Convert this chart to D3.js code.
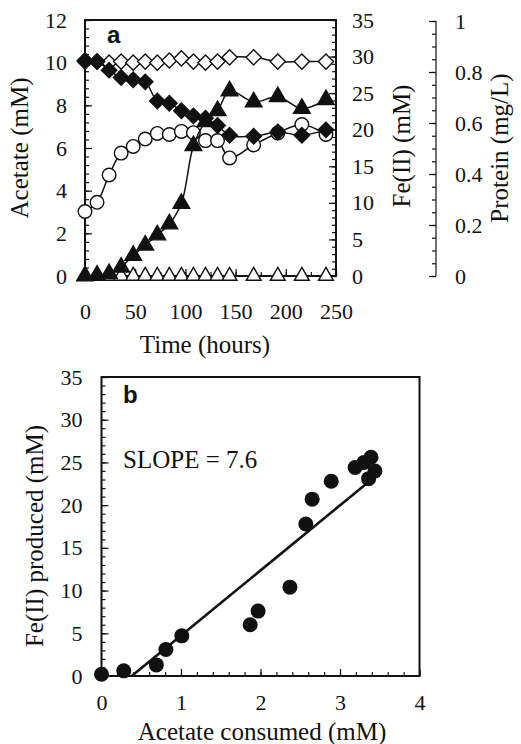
<!DOCTYPE html>
<html><head><meta charset="utf-8">
<script src="https://cdn.jsdelivr.net/npm/d3@7"></script>
<style>body{margin:0;background:#fff}svg{display:block}svg text{font-family:"Liberation Serif","Times New Roman",serif !important;fill:#111}svg text.bold{font-family:"Liberation Sans",Arial,sans-serif !important}</style>
</head><body>
<script>
// ---------- Panel a data ----------
const timeHours = [0,12,24,36,48,60,72,84,96,108,120,132,144,168,192,216,240];
const acetateLive = [10.1,10.05,9.65,9.3,9.2,9.1,8.2,8.1,7.75,7.5,7.4,7.05,6.6,6.55,6.75,6.6,6.85];
const acetateControl = [10.05,10.05,10.0,10.05,10.0,10.05,10.0,10.1,10.2,10.05,10.0,10.05,10.25,10.25,10.05,10.05,10.05];
const feLive = [0.0,0.1,0.3,1.2,2.8,4.2,5.6,7.1,9.9,17.8,21.1,22.6,25.3,23.8,24.5,22.9,24.1];
const feControl = [0,0,0,0,0,0,0,0,0,0,0,0,0,0,0,0,0];
const protein = [0.253,0.289,0.396,0.482,0.508,0.537,0.559,0.555,0.567,0.562,0.531,0.531,0.463,0.514,0.561,0.594,0.555];
const timeTicks = [0,50,100,150,200,250];
const acetateTicks = [0,2,4,6,8,10,12];
const feTicks = [0,5,10,15,20,25,30,35];
const proteinTicks = [0,0.2,0.4,0.6,0.8,1];
const proteinTickLabels = ["0","0.2","0.4","0.6","0.8","1"];

// ---------- Panel b data ----------
const acetateConsumed = [0,0.28,0.69,0.81,1.01,1.87,1.97,2.37,2.57,2.65,2.89,3.19,3.30,3.39,3.44,3.36];
const feProduced = [0.2,0.6,1.3,3.1,4.7,6.0,7.6,10.4,17.8,20.7,22.8,24.4,25.0,25.6,24.0,23.1];
const fitX = [0.38,3.37];
const fitY = [0,22.8];
const consumedTicks = [0,1,2,3,4];
const producedTicks = [0,5,10,15,20,25,30,35];

const W=521,H=744;
const TICK=22, TITLE=25;
const SERIF='"Liberation Serif","Times New Roman",serif';
const svg=d3.select("body").append("svg").attr("width",W).attr("height",H);

function minorTicks(g,axisFn,scale,vals,len){
  g.append("g").call(axisFn(scale).tickValues(vals).tickSize(len).tickFormat(""))
   .call(s=>s.select(".domain").remove()).selectAll("line").attr("stroke","#111").attr("stroke-width",1.2);
}
function labels(g,axis){
  g.append("g").call(axis.tickSize(0))
   .call(s=>s.select(".domain").remove())
   .attr("font-family",SERIF)
   .selectAll("text").attr("font-size",TICK).style("font-family",SERIF);
}

// ---------- Panel a ----------
const A={l:85,r:336,t:20,b:276};
const xA=d3.scaleLinear().domain([0,250]).range([A.l,A.r]);
const yAc=d3.scaleLinear().domain([0,12]).range([A.b,A.t]);
const yFe=d3.scaleLinear().domain([0,35]).range([A.b,A.t]);
const yPr=d3.scaleLinear().domain([0,1]).range([A.b,21]);
const gA=svg.append("g");

const gAx=gA.append("g").attr("transform",`translate(0,${A.b})`);
minorTicks(gAx,d3.axisTop,xA,d3.range(0,251,25),4);
minorTicks(gAx,d3.axisTop,xA,timeTicks,7);
labels(gAx,d3.axisBottom(xA).tickValues(timeTicks).tickPadding(27).tickFormat(d3.format("d")));
const gAy=gA.append("g").attr("transform",`translate(${A.l},0)`);
minorTicks(gAy,d3.axisRight,yAc,d3.range(0,12.01,0.4),4);
minorTicks(gAy,d3.axisRight,yAc,acetateTicks,7);
labels(gAy,d3.axisLeft(yAc).tickValues(acetateTicks).tickPadding(18).tickFormat(d3.format("d")));
const gAr=gA.append("g").attr("transform",`translate(${A.r},0)`);
minorTicks(gAr,d3.axisLeft,yFe,d3.range(0,35.01,1),4);
minorTicks(gAr,d3.axisLeft,yFe,feTicks,7);
labels(gAr,d3.axisRight(yFe).tickValues(feTicks).tickPadding(16).tickFormat(d3.format("d")));
const gP=gA.append("g").attr("transform","translate(436,0)");
minorTicks(gP,d3.axisLeft,yPr,d3.range(0,1.001,0.05),4);
minorTicks(gP,d3.axisLeft,yPr,proteinTicks,7);
gP.append("line").attr("y1",yPr(0)).attr("y2",yPr(1)).attr("stroke","#111").attr("stroke-width",1.2);
labels(gP,d3.axisRight(yPr).tickValues(proteinTicks).tickPadding(19).tickFormat((d,i)=>proteinTickLabels[i]));

gA.append("rect").attr("x",A.l).attr("y",A.t).attr("width",A.r-A.l).attr("height",A.b-A.t)
  .attr("fill","none").attr("stroke","#111").attr("stroke-width",2);

gA.append("text").attr("x",205).attr("y",353).attr("text-anchor","middle").attr("font-size",TITLE).text("Time (hours)");
gA.append("text").attr("transform","translate(28,148) rotate(-90)").attr("text-anchor","middle").attr("font-size",TITLE).text("Acetate (mM)");
gA.append("text").attr("transform","translate(410,146) rotate(-90)").attr("text-anchor","middle").attr("font-size",TITLE).text("Fe(II) (mM)");
gA.append("text").attr("transform","translate(508,148) rotate(-90)").attr("text-anchor","middle").attr("font-size",TITLE).text("Protein (mg/L)");
gA.append("text").attr("class","bold").attr("x",107).attr("y",43).attr("font-size",24).attr("font-weight","bold").text("a");

const curve=d3.curveCatmullRom.alpha(0.5);
const diamond={draw(ctx,size){const s=Math.sqrt(size)/Math.SQRT2;ctx.moveTo(0,-s);ctx.lineTo(s,0);ctx.lineTo(0,s);ctx.lineTo(-s,0);ctx.closePath();}};
function series(vals,yS,sym,size,fill){
  const pts=timeHours.map((t,i)=>[xA(t),yS(vals[i])]);
  gA.append("path").attr("d",d3.line().curve(curve)(pts)).attr("fill","none").attr("stroke","#111").attr("stroke-width",1.5);
  gA.selectAll(null).data(pts).enter().append("path")
    .attr("transform",d=>`translate(${d[0]},${d[1]})`)
    .attr("d",d3.symbol().type(sym).size(size))
    .attr("fill",fill).attr("stroke","#111").attr("stroke-width",1.4);
}
series(feControl,yFe,d3.symbolTriangle,95,"#fff");
series(acetateControl,yAc,diamond,115,"#fff");
series(protein,yPr,d3.symbolCircle,145,"#fff");
series(feLive,yFe,d3.symbolTriangle,120,"#111");
series(acetateLive,yAc,diamond,120,"#111");

// ---------- Panel b ----------
const B={l:101.5,r:419.5,t:377,b:676};
const xB=d3.scaleLinear().domain([0,4]).range([B.l,B.r]);
const yB=d3.scaleLinear().domain([0,35]).range([B.b,B.t]);
const gB=svg.append("g");
const gBx=gB.append("g").attr("transform",`translate(0,${B.b})`);
minorTicks(gBx,d3.axisTop,xB,d3.range(0,4.001,0.2),4);
minorTicks(gBx,d3.axisTop,xB,consumedTicks,7);
labels(gBx,d3.axisBottom(xB).tickValues(consumedTicks).tickPadding(18).tickFormat(d3.format("d")));
const gBy=gB.append("g").attr("transform",`translate(${B.l},0)`);
minorTicks(gBy,d3.axisRight,yB,d3.range(0,35.01,1),4);
minorTicks(gBy,d3.axisRight,yB,producedTicks,7);
labels(gBy,d3.axisLeft(yB).tickValues(producedTicks).tickPadding(19).tickFormat(d3.format("d")));
gB.append("rect").attr("x",B.l).attr("y",B.t).attr("width",B.r-B.l).attr("height",B.b-B.t)
  .attr("fill","none").attr("stroke","#111").attr("stroke-width",2);
gB.append("text").attr("x",262).attr("y",740).attr("text-anchor","middle").attr("font-size",TITLE).text("Acetate consumed (mM)");
gB.append("text").attr("transform","translate(43,536) rotate(-90)").attr("text-anchor","middle").attr("font-size",TITLE).text("Fe(II) produced (mM)");
gB.append("text").attr("class","bold").attr("x",123).attr("y",403).attr("font-size",24).attr("font-weight","bold").text("b");
gB.append("text").attr("x",123).attr("y",468).attr("font-size",TITLE).text("SLOPE = 7.6");
gB.append("line").attr("x1",xB(fitX[0])).attr("y1",yB(fitY[0])).attr("x2",xB(fitX[1])).attr("y2",yB(fitY[1]))
  .attr("stroke","#111").attr("stroke-width",2.6);
gB.selectAll(null).data(acetateConsumed).enter().append("circle")
  .attr("cx",d=>xB(d)).attr("cy",(d,i)=>yB(feProduced[i])).attr("r",7.5).attr("fill","#111");
</script>
</body></html>
